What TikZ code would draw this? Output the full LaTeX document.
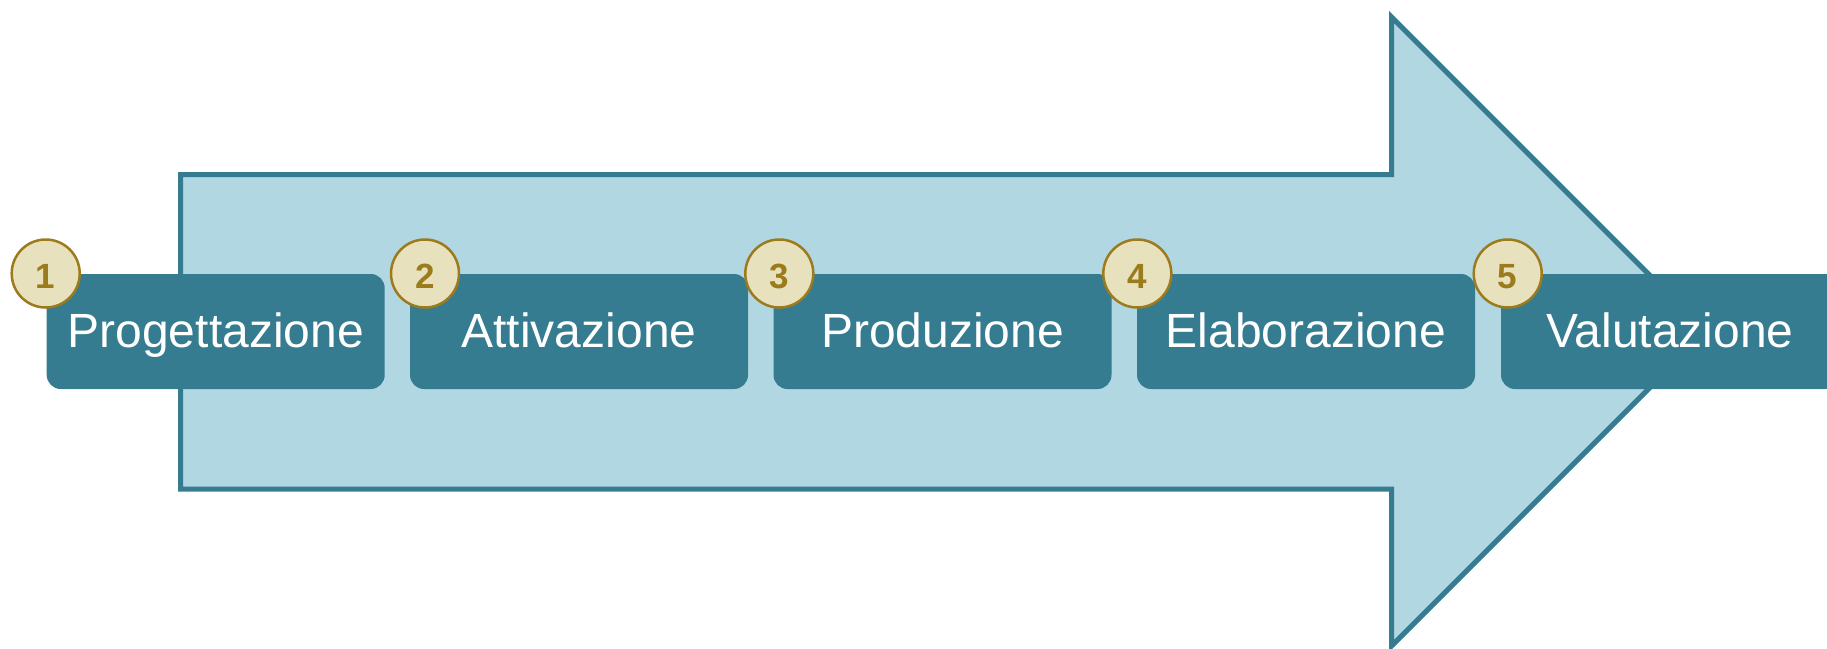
\documentclass[tikz,border=0pt]{standalone}
\usepackage{fontspec}
\setmainfont{Liberation Sans}
\definecolor{teal1}{HTML}{357C91}
\definecolor{arrowfill}{HTML}{B1D7E2}
\definecolor{circfill}{HTML}{E8E1BD}
\definecolor{gold1}{HTML}{9C7B1C}
\begin{document}
\begin{tikzpicture}[x=1pt,y=-1pt,
  stagebox/.style={fill=teal1, rounded corners=14pt, minimum width=338pt, minimum height=115pt,
    inner sep=0pt, text=white, font=\fontsize{48}{50}\selectfont, text height=35pt, text depth=4pt},
  numdisc/.style={circle, fill=circfill, draw=gold1, line width=2.5pt, minimum size=68pt, inner sep=0pt,
    text=gold1, font=\fontsize{35}{37}\selectfont\bfseries, text height=30pt, text depth=0pt}]
\useasboundingbox (0,0) rectangle (1827,648);
% big arrow
\draw[fill=arrowfill, draw=teal1, line width=5pt]
  (180.5,174.5) -- (1391.5,174.5) -- (1391.5,17) -- (1706,331.5) -- (1391.5,646)
  -- (1391.5,489) -- (180.5,489) -- cycle;
% stage boxes
\node[stagebox] (b1) at (215.7,331.5) {Progettazione};
\node[stagebox] (b2) at (579,331.5) {Attivazione};
\node[stagebox] (b3) at (942.5,331.5) {Produzione};
\node[stagebox] (b4) at (1306,331.5) {Elaborazione};
\node[stagebox] (b5) at (1670,331.5) {Valutazione};
% number discs
\node[numdisc] (n1) at (45.7,273.5) {1};
\node[numdisc] (n2) at (425,273.5) {2};
\node[numdisc] (n3) at (779.3,273.5) {3};
\node[numdisc] (n4) at (1137.3,273.5) {4};
\node[numdisc] (n5) at (1507.7,273.5) {5};
\end{tikzpicture}
\end{document}
